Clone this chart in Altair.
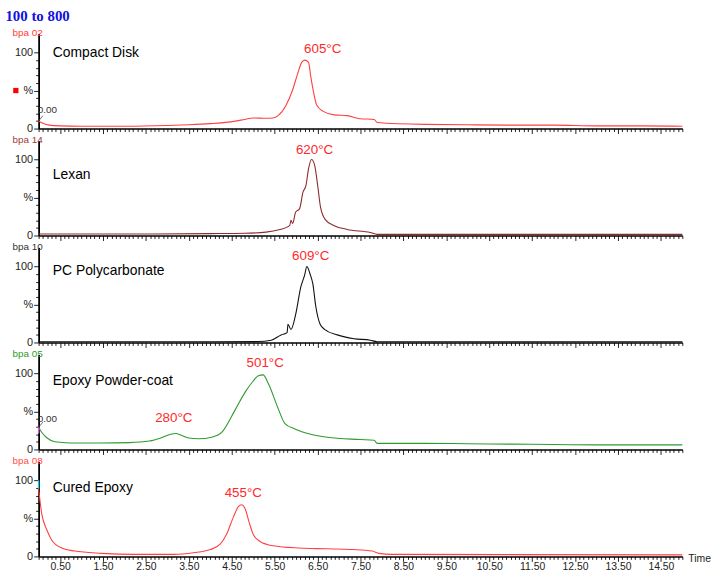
import altair as alt
import pandas as pd

# ---- data (time in minutes, relative intensity %) ----
cd_t = [0.0, 0.1, 0.25, 0.5, 1.0, 2.0, 3.0, 3.5, 4.0, 4.42, 4.8, 5.0, 5.3, 5.46, 5.58, 5.76, 5.92, 6.04, 6.13, 6.20,
        6.29, 6.34, 6.41, 6.48, 6.62, 6.89, 7.19, 7.49, 7.82, 7.89, 9.0, 10.0, 11.0, 12.0, 13.0, 14.0, 15.0]
cd_v = [10, 7, 4.5, 3.5, 3, 3, 4, 5, 6.5, 8.5, 12, 14, 13.5, 14, 17, 30, 51, 73, 87, 90,
        87, 69, 47, 31, 23, 18, 17, 13, 12, 8, 5.5, 5, 4.5, 4.5, 3.5, 3.5, 3]

lx_t = [0, 2, 4, 4.8, 5.3, 5.6, 5.85, 5.88, 5.92, 5.99, 6.08, 6.16, 6.23, 6.29, 6.36, 6.43, 6.5, 6.57, 6.68, 6.89,
        7.19, 7.73, 7.89, 15]
lx_v = [2, 2, 2.5, 3, 4.5, 7.5, 13, 20, 16, 31, 35, 57, 66, 88, 100, 93, 67, 37, 21, 13,
        8, 4, 1.5, 1.5]

pc_t = [0, 4, 5.12, 5.42, 5.65, 5.79, 5.81, 5.88, 5.99, 6.11, 6.20, 6.25, 6.32, 6.39, 6.46, 6.56, 6.67, 6.96, 7.35,
        7.73, 7.89, 15]
pc_v = [1, 1, 1.2, 3, 10, 13, 24, 17, 37, 73, 89, 100, 91, 77, 47, 24, 17, 10, 5,
        3, 1, 1]

ep_t = [0, 0.08, 0.2, 0.38, 0.73, 1.42, 2.11, 2.58, 2.85, 3.08, 3.2, 3.31, 3.5, 3.73, 4.03, 4.26, 4.58, 4.82, 5.0,
        5.12, 5.23, 5.35, 5.58, 5.74, 5.97, 6.34, 6.73, 7.49, 7.82, 7.89, 9, 10, 11, 12, 13, 15]
ep_v = [29, 22, 15, 10, 8.5, 8.5, 9, 11, 15, 20, 21, 19, 15, 14, 16, 22, 52, 76, 90,
        97, 98, 87, 54, 34, 27, 20, 16, 13, 12, 8, 8, 7.5, 7, 6.5, 6, 6]

ce_t = [0, 0.07, 0.19, 0.30, 0.54, 0.84, 1.46, 2.23, 3.15, 3.61, 4.0, 4.23, 4.38, 4.54, 4.65, 4.73, 4.81, 4.91,
        5.0, 5.15, 5.46, 6.08, 6.69, 7.31, 7.77, 7.93, 8.23, 15]
ce_v = [89, 57, 35, 22, 11, 7, 4, 2.6, 2.6, 4.8, 9, 16, 29, 52, 65, 68, 63, 44,
        29, 20, 14, 11, 10, 9, 7, 4, 2.6, 2]

series_t = [cd_t, lx_t, pc_t, ep_t, ce_t]
series_v = [cd_v, lx_v, pc_v, ep_v, ce_v]
names = ["Compact Disk", "Lexan", "PC Polycarbonate", "Epoxy Powder-coat", "Cured Epoxy"]
name_v = [99, 79, 94, 90, 90]
tags = ["bpa 02", "bpa 14", "bpa 10", "bpa 05", "bpa 08"]
line_colors = ["#FF4040", "#8E2A2A", "#111111", "#2E9A2E", "#FF4040"]
tag_colors = ["#FF3B3B", "#A33A3A", "#333333", "#2E9A2E", "#FF4D4D"]

peak_panel = [0, 1, 2, 3, 3, 4]
peak_text = ["605°C", "620°C", "609°C", "501°C", "280°C", "455°C"]
peak_t = [6.62, 6.43, 6.34, 5.28, 3.15, 4.77]
peak_v = [105, 112, 114, 113, 41.6, 83]

# "0.00" start markers (panel, label pos, leader line)
zero_panel = [0, 3]
zero_t = [0.0, 0.0]
zero_v = [24, 40]
lead_t2 = [0.1, 0.1]
lead_v1 = [10, 29]
lead_v2 = [17, 36]

x_ticks = [round(i * 0.1, 1) for i in range(151)]
y_ticks = list(range(0, 101, 10))

W, H = 650, 96
FONT = "Liberation Sans"
xscale = alt.Scale(domain=[0, 15], nice=False, zero=False)
yscale = alt.Scale(domain=[0, 125], nice=False)

MAJOR_X = "abs((datum.value * 10) % 10 - 5) < 0.01"


def make_panel(i, bottom):
    df = pd.DataFrame({"t": series_t[i], "v": series_v[i]})
    xaxis = alt.Axis(
        values=x_ticks, title=None, labels=bottom, grid=False,
        labelExpr=f"{MAJOR_X} ? format(datum.value, '.2f') : ''",
        labelOverlap=False, labelFlush=False, labelFontSize=10.5, labelPadding=0,
        tickSize={"condition": {"test": MAJOR_X, "value": 5}, "value": 3},
        domainWidth=1.5, domainColor="black", tickColor="#222", labelColor="#222",
    )
    yaxis = alt.Axis(
        values=y_ticks, title=None, grid=False,
        labelExpr="datum.value == 100 ? '100' : datum.value == 50 ? '%' : datum.value == 0 ? '0' : ''",
        labelOverlap=False, labelFlush=False, labelFontSize=11, labelPadding=1,
        tickSize={"condition": {"test": "datum.value % 50 == 0", "value": 5}, "value": 3},
        domainWidth=1.8, domainColor="black", tickColor="#222", labelColor="#222",
    )
    X = lambda f: alt.X(f, scale=xscale, axis=xaxis)
    Y = lambda f: alt.Y(f, scale=yscale, axis=yaxis)

    line = alt.Chart(df).mark_line(color=line_colors[i], strokeWidth=1.1, interpolate="monotone").encode(
        x=X("t:Q"), y=Y("v:Q"))
    layers = [line]

    name_df = pd.DataFrame({"t": [0.33], "v": [name_v[i]], "s": [names[i]]})
    layers.append(alt.Chart(name_df).mark_text(align="left", baseline="middle", fontSize=14, font=FONT,
                                               color="black").encode(x=X("t:Q"), y=Y("v:Q"), text="s:N"))

    tag_df = pd.DataFrame({"s": [tags[i]]})
    layers.append(alt.Chart(tag_df).mark_text(align="left", baseline="middle", fontSize=10, font=FONT,
                                              color=tag_colors[i]).encode(
        x=alt.value(-26.5), y=alt.value(0), text="s:N"))

    pk = [k for k, p in enumerate(peak_panel) if p == i]
    if pk:
        pk_df = pd.DataFrame({"t": [peak_t[k] for k in pk], "v": [peak_v[k] for k in pk],
                              "s": [peak_text[k] for k in pk]})
        layers.append(alt.Chart(pk_df).mark_text(align="center", baseline="middle", fontSize=13.5, font=FONT,
                                                 color="#FF2A2A").encode(x=X("t:Q"), y=Y("v:Q"), text="s:N"))

    zk = [k for k, p in enumerate(zero_panel) if p == i]
    if zk:
        z_df = pd.DataFrame({"t": [zero_t[k] for k in zk], "v": [zero_v[k] for k in zk], "s": ["0.00"] * len(zk),
                             "t2": [lead_t2[k] for k in zk], "v1": [lead_v1[k] for k in zk],
                             "v2": [lead_v2[k] for k in zk]})
        layers.append(alt.Chart(z_df).mark_text(align="left", baseline="middle", fontSize=10, font=FONT,
                                                color="#333", dx=-1).encode(x=X("t:Q"), y=Y("v:Q"), text="s:N"))
        layers.append(alt.Chart(z_df).mark_rule(color="#555", strokeWidth=0.8).encode(
            x=X("t:Q"), x2="t2:Q", y=Y("v1:Q"), y2="v2:Q"))

    if i == 0:
        sq_df = pd.DataFrame({"v": [50]})
        layers.append(alt.Chart(sq_df).mark_square(color="#FF0000", size=28, opacity=1).encode(
            x=alt.value(-23), y=Y("v:Q")))
        ttl_df = pd.DataFrame({"s": ["100 to 800"]})
        layers.append(alt.Chart(ttl_df).mark_text(align="left", baseline="middle", fontSize=15,
                                                  font="Liberation Serif", fontWeight="bold",
                                                  color="#1010E0").encode(
            x=alt.value(-33.5), y=alt.value(-18), text="s:N"))
    if i == 3:
        m_df = pd.DataFrame({"t": [0.0], "v1": [21], "v2": [29]})
        layers.append(alt.Chart(m_df).mark_rule(color="#E050E0", strokeWidth=1.5).encode(
            x=X("t:Q"), y=Y("v1:Q"), y2="v2:Q"))
    if i == 4:
        c_df = pd.DataFrame({"t": [0.0], "v1": [89], "v2": [100]})
        layers.append(alt.Chart(c_df).mark_rule(color="#20C8D8", strokeWidth=1.5).encode(
            x=X("t:Q"), y=Y("v1:Q"), y2="v2:Q"))
        time_df = pd.DataFrame({"s": ["Time"]})
        layers.append(alt.Chart(time_df).mark_text(align="left", baseline="middle", fontSize=10.5, font=FONT,
                                                   color="#222").encode(
            x=alt.value(W + 6), y=alt.value(H + 3), text="s:N"))

    return alt.layer(*layers).properties(width=W, height=H)


panels = [make_panel(i, i == 4) for i in range(5)]

chart = alt.vconcat(*panels, spacing=12, bounds="flush").properties(
    padding={"left": 5, "top": 6, "right": 5, "bottom": 5}
).configure_view(stroke=None).configure_axis(labelFont=FONT)

chart.save("out.html", embed_options={"renderer": "svg", "actions": False})
